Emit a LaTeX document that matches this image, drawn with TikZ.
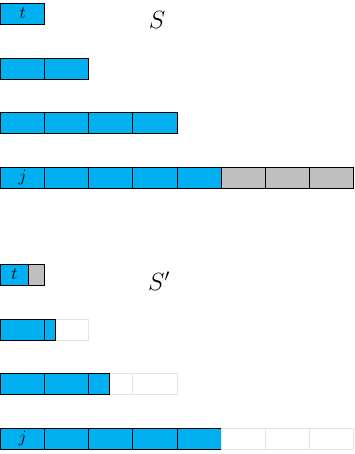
\documentclass[tikz,border=0pt]{standalone}
\definecolor{cblue}{RGB}{0,176,240}
\definecolor{cgray}{RGB}{191,191,191}
\definecolor{cline}{RGB}{228,228,228}
\begin{document}
\begin{tikzpicture}[x=1pt,y=-1pt,
  base/.style={inner sep=0pt, outer sep=0pt, minimum height=21pt, anchor=north west, font=\fontsize{16}{18}\selectfont},
  bcell/.style={base, draw=black, line width=0.9pt, fill=cblue, minimum width=44.125pt},
  gcell/.style={base, draw=black, line width=0.9pt, fill=cgray, minimum width=44.125pt},
  ecell/.style={base, draw=cline, line width=0.9pt, fill=white, minimum width=44.125pt},
  lbl/.style={font=\fontsize{25}{28}\selectfont}]
\useasboundingbox (0,0) rectangle (354,454);
% ---- S ----
\node[bcell] (r1c1) at (0.5,3) {$t$};
\node[bcell] (r2c1) at (0.5,58) {};
\node[bcell] (r2c2) at (44.625,58) {};
\node[bcell] (r3c1) at (0.5,112.5) {};
\node[bcell] (r3c2) at (44.625,112.5) {};
\node[bcell] (r3c3) at (88.75,112.5) {};
\node[bcell] (r3c4) at (132.875,112.5) {};
\node[bcell] (r4c1) at (0.5,167) {$j$};
\node[bcell] (r4c2) at (44.625,167) {};
\node[bcell] (r4c3) at (88.75,167) {};
\node[bcell] (r4c4) at (132.875,167) {};
\node[bcell] (r4c5) at (177,167) {};
\node[gcell] (r4c6) at (221.125,167) {};
\node[gcell] (r4c7) at (265.25,167) {};
\node[gcell] (r4c8) at (309.375,167) {};
\node[lbl] (S) at (157,20) {$S$};
% ---- S' ----
\node[bcell, minimum width=27.8pt] (s1a) at (0.5,264) {$t$};
\node[gcell, minimum width=16.3pt] (s1b) at (28.3,264) {};
\node[bcell] (s2c1) at (0.5,319) {};
\node[ecell] (s2c2) at (44.625,319) {};
\node[bcell, minimum width=11pt] (s2p) at (44.625,319) {};
\node[bcell] (s3c1) at (0.5,373.5) {};
\node[bcell] (s3c2) at (44.625,373.5) {};
\node[ecell] (s3c3) at (88.75,373.5) {};
\node[ecell] (s3c4) at (132.875,373.5) {};
\node[bcell, minimum width=21pt] (s3p) at (88.75,373.5) {};
\node[bcell] (s4c1) at (0.5,428) {$j$};
\node[bcell] (s4c2) at (44.625,428) {};
\node[bcell] (s4c3) at (88.75,428) {};
\node[bcell] (s4c4) at (132.875,428) {};
\node[bcell] (s4c5) at (177,428) {};
\node[ecell] (s4c6) at (221.125,428) {};
\node[ecell] (s4c7) at (265.25,428) {};
\node[ecell] (s4c8) at (309.375,428) {};
\node[lbl] (Sp) at (159,281) {$S'$};
\end{tikzpicture}
\end{document}
